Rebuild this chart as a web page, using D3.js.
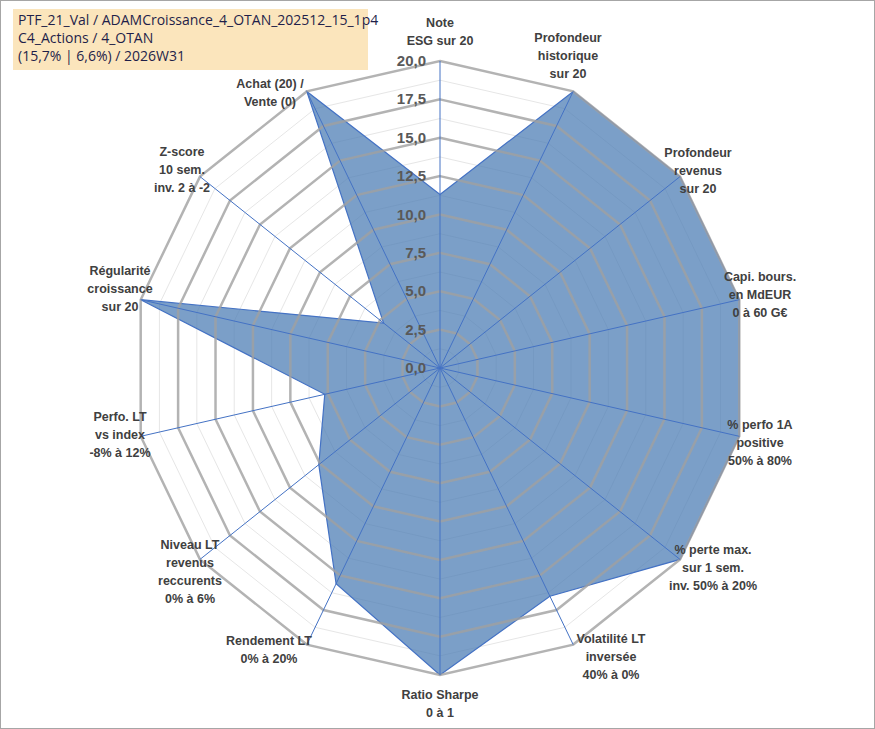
<!DOCTYPE html>
<html><head><meta charset="utf-8">
<script src="https://cdn.jsdelivr.net/npm/d3@7"></script>
<style>
body{margin:0;background:#fff;font-family:Arial,"Liberation Sans",sans-serif;}
svg{display:block}
</style></head><body>
<svg id="c" width="875" height="729"></svg>
<script>
const labels = [
  ["Note","ESG sur 20"],
  ["Profondeur","historique","sur 20"],
  ["Profondeur","revenus","sur 20"],
  ["Capi. bours.","en MdEUR","0 à 60 G€"],
  ["% perfo 1A","positive","50% à 80%"],
  ["% perte max.","sur 1 sem.","inv. 50% à 20%"],
  ["Volatilité LT","inversée","40% à 0%"],
  ["Ratio Sharpe","0 à 1"],
  ["Rendement LT","0% à 20%"],
  ["Niveau LT","revenus","reccurents","0% à 6%"],
  ["Perfo. LT","vs index","-8% à 12%"],
  ["Régularité","croissance","sur 20"],
  ["Z-score","10 sem.","inv. 2 à -2"],
  ["Momentum","Achat (20) /","Vente (0)"]
];
const values = [11.3, 20, 20, 20, 20, 20, 16.5, 20, 15.6, 10.1, 7.7, 20, 4.7, 20];
const ticks = [0, 2.5, 5, 7.5, 10, 12.5, 15, 17.5, 20];
const titleLines = ["PTF_21_Val / ADAMCroissance_4_OTAN_202512_15_1p4","C4_Actions / 4_OTAN","(15,7% | 6,6%) / 2026W31"];

const svg = d3.select("#c");
const cx = 440, cy = 368, R = 307;
const n = labels.length;
const r = d3.scaleLinear().domain([0, 20]).range([0, R]);
const ang = d3.scaleLinear().domain([0, n]).range([0, 2 * Math.PI]);
const pt = (i, v) => [cx + r(v) * Math.sin(ang(i)), cy - r(v) * Math.cos(ang(i))];

svg.append("rect").attr("x", 0.5).attr("y", 0.5).attr("width", 874).attr("height", 728)
  .attr("fill", "#fff").attr("stroke", "#a6a6a6");

// minor grid
d3.range(1.25, 20, 2.5).forEach(t => {
  svg.append("polygon").attr("points", d3.range(n).map(i => pt(i, t).join(",")).join(" "))
    .attr("fill", "none").attr("stroke", "#e6e6e6").attr("stroke-width", 1);
});

const line = d3.line().curve(d3.curveLinearClosed);
svg.append("path").attr("d", line(values.map((v, i) => pt(i, v))))
  .attr("fill", "#4f7fb5").attr("fill-opacity", 0.75).attr("stroke", "#4472c4").attr("stroke-width", 1.2);

// major grid
ticks.slice(1).forEach(t => {
  svg.append("polygon").attr("points", d3.range(n).map(i => pt(i, t).join(",")).join(" "))
    .attr("fill", "none").attr("stroke", "#a0a0a0").attr("stroke-opacity", 0.8).attr("stroke-width", 2.5);
});

// spokes
d3.range(n).forEach(i => {
  const [x, y] = pt(i, 20);
  svg.append("line").attr("x1", cx).attr("y1", cy).attr("x2", x).attr("y2", y)
    .attr("stroke", "#4472c4").attr("stroke-width", 1);
});

// tick labels
ticks.forEach(t => {
  svg.append("text").attr("x", cx - 14).attr("y", cy - r(t) + 5).attr("text-anchor", "end")
    .attr("font-size", 15).attr("font-weight", "bold").attr("fill", "#595959")
    .text(d3.format(".1f")(t).replace(".", ","));
});

// axis labels
const lx = [440, 568, 698, 760, 760, 713, 611, 440, 269, 190, 120, 120, 182, 270];
const ly = [16, 31, 146, 270, 418, 543, 632, 688, 634, 538, 410, 264, 145, 59];
labels.forEach((ls, i) => {
  const anchor = "middle";
  const tx = svg.append("text").attr("text-anchor", anchor).attr("font-size", 12.5)
    .attr("font-weight", "bold").attr("fill", "#404040");
  ls.forEach((s, k) => {
    tx.append("tspan").attr("x", lx[i]).attr("y", ly[i] + 11 + k * 18)
      .attr("fill", (i === 13 && k === 0) ? "#b0a07a" : "#404040").text(s);
  });
});

// title box
svg.append("rect").attr("x", 13).attr("y", 9).attr("width", 355).attr("height", 61).attr("fill", "#fbe5bc");
titleLines.forEach((s, k) => {
  svg.append("text").attr("x", 18).attr("y", 25 + k * 18).attr("font-size", 14)
    .attr("font-family", "'Open Sans', sans-serif").attr("fill", "#1f1f4a").text(s);
});
</script>
</body></html>
